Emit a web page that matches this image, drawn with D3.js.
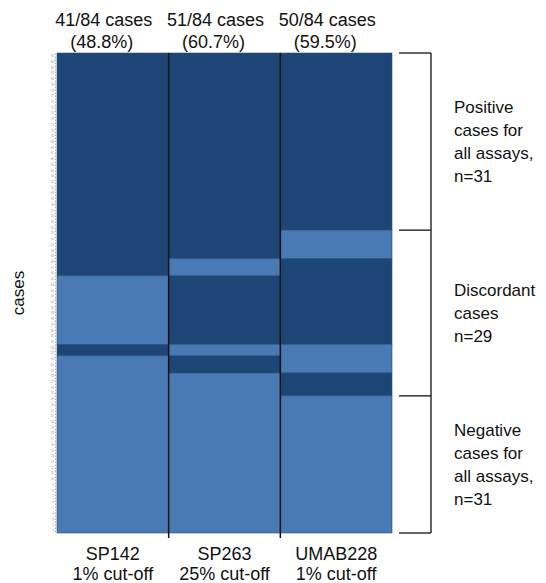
<!DOCTYPE html>
<html>
<head>
<meta charset="utf-8">
<script src="https://cdn.jsdelivr.net/npm/d3@7"></script>
<style>
  body { margin: 0; background: #fff; }
  svg text { font-family: "Liberation Sans", Arial, sans-serif; fill: #111; }
  .caseAxis path { stroke: #aaa; stroke-dasharray: 1.5,1.5; }
  .caseAxis text { font-size: 3px; fill: #999; }
</style>
</head>
<body>
<div id="chart"></div>
<script>
// assays and labels
const assays = ["SP142", "SP263", "UMAB228"];
const cutoffs = ["1% cut-off", "25% cut-off", "1% cut-off"];
const positiveCounts = ["41/84 cases", "51/84 cases", "50/84 cases"];
const positivePercents = ["(48.8%)", "(60.7%)", "(59.5%)"];

// run lengths of cases from top, alternating positive / negative (starting positive)
const sp142Runs = [39, 12, 2, 31];
const sp263Runs = [36, 3, 12, 2, 3, 28];
const umab228Runs = [31, 5, 15, 5, 4, 24];
const totalCases = 84;

// bracket groups on the right
const groupBounds = [0, 31, 60, 84];
const groupLabels = [
  ["Positive", "cases for", "all assays,", "n=31"],
  ["Discordant", "cases", "n=29"],
  ["Negative", "cases for", "all assays,", "n=31"]
];

const width = 546, height = 583;
const margin = {top: 53, right: 154, bottom: 50, left: 57};

let svg = d3.select("#chart").append("svg")
  .attr("width", width)
  .attr("height", height);

let x = d3.scaleBand().domain(assays).range([margin.left, width - margin.right]);
let y = d3.scaleLinear().domain([0, totalCases]).range([margin.top, height - margin.bottom]);

const colorPos = "#1d4677", colorNeg = "#4a7ab3";

let runs = [sp142Runs, sp263Runs, umab228Runs];
let segs = [];
runs.forEach(function(r, i) {
  let start = 0;
  r.forEach(function(n, j) {
    segs.push({assay: assays[i], start: start, end: start + n, pos: j % 2 === 0});
    start += n;
  });
});

// stacked case segments
svg.selectAll("rect.seg")
  .data(segs)
  .enter().append("rect")
  .attr("class", "seg")
  .attr("x", d => x(d.assay))
  .attr("width", x.bandwidth())
  .attr("y", d => y(d.start))
  .attr("height", d => y(d.end) - y(d.start))
  .style("fill", d => d.pos ? colorPos : colorNeg)
  .style("stroke", "#2a4f7c")
  .style("stroke-width", 0.6);

// column dividers
svg.selectAll("line.div")
  .data(assays.slice(1))
  .enter().append("line")
  .attr("x1", d => x(d)).attr("x2", d => x(d))
  .attr("y1", y(0)).attr("y2", y(totalCases) + 5)
  .style("stroke", "#111")
  .style("stroke-width", 1.5);

// case axis (tiny dotted)
let caseTicks = d3.range(1, totalCases + 1);
let yCase = d3.scaleLinear().domain([totalCases + 0.5, 0.5]).range([y(0), y(totalCases)]);
svg.append("g")
  .attr("class", "caseAxis")
  .attr("transform", "translate(" + (margin.left - 2) + ",0)")
  .call(d3.axisLeft(yCase).tickValues(caseTicks).tickSize(0).tickPadding(1).tickSizeOuter(0));

svg.append("text")
  .attr("transform", "translate(24," + ((y(0) + y(totalCases)) / 2) + ") rotate(-90)")
  .attr("text-anchor", "middle")
  .style("font-size", "17px")
  .text("cases");

// top labels
svg.selectAll("text.cnt")
  .data(assays)
  .enter().append("text")
  .attr("x", d => x(d) + x.bandwidth() / 2 - 9)
  .attr("y", 26)
  .attr("text-anchor", "middle")
  .style("font-size", "18px")
  .text((d, i) => positiveCounts[i]);

svg.selectAll("text.pct")
  .data(assays)
  .enter().append("text")
  .attr("x", d => x(d) + x.bandwidth() / 2 - 11)
  .attr("y", 48)
  .attr("text-anchor", "middle")
  .style("font-size", "18px")
  .text((d, i) => positivePercents[i]);

// bottom labels
svg.selectAll("text.assay")
  .data(assays)
  .enter().append("text")
  .attr("x", d => x(d) + x.bandwidth() / 2)
  .attr("y", 560)
  .attr("text-anchor", "middle")
  .style("font-size", "18px")
  .text(d => d);

svg.selectAll("text.cut")
  .data(assays)
  .enter().append("text")
  .attr("x", d => x(d) + x.bandwidth() / 2)
  .attr("y", 580)
  .attr("text-anchor", "middle")
  .style("font-size", "18px")
  .text((d, i) => cutoffs[i]);

// brackets
let bx1 = width - margin.right + 7, bx2 = width - margin.right + 39;
svg.selectAll("line.bh")
  .data(groupBounds)
  .enter().append("line")
  .attr("x1", bx1).attr("x2", bx2)
  .attr("y1", d => y(d)).attr("y2", d => y(d))
  .style("stroke", "#111").style("stroke-width", 1.3);

svg.append("line")
  .attr("x1", bx2).attr("x2", bx2)
  .attr("y1", y(0)).attr("y2", y(totalCases))
  .style("stroke", "#111").style("stroke-width", 1.3);

groupLabels.forEach(function(lines, i) {
  let mid = (y(groupBounds[i]) + y(groupBounds[i + 1])) / 2;
  let lh = 23;
  let t = svg.append("text")
    .attr("x", 454)
    .style("font-size", "17px");
  lines.forEach(function(l, k) {
    t.append("tspan")
      .attr("x", 454)
      .attr("y", mid - (lines.length - 1) * lh / 2 + k * lh + 6)
      .text(l);
  });
});
</script>
</body>
</html>
